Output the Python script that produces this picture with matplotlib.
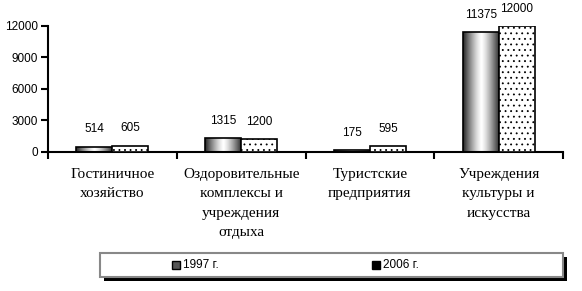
import numpy as np
import matplotlib.pyplot as plt
from matplotlib.patches import Rectangle

categories = ["Гостиничное\nхозяйство",
              "Оздоровительные\nкомплексы и\nучреждения\nотдыха",
              "Туристские\nпредприятия",
              "Учреждения\nкультуры и\nискусства"]
v1997 = [514, 1315, 175, 11375]
v2006 = [605, 1200, 595, 12000]
years = ["1997 г.", "2006 г."]
yticks = [0, 3000, 6000, 9000, 12000]

fig = plt.figure(figsize=(5.82, 2.91), dpi=100)
ax = fig.add_axes([0.0825, 0.478, 0.885, 0.433])

x = np.arange(len(categories))
w = 0.28

# gradient "cylinder" fill for 1997 bars
grad = np.abs(np.linspace(-1, 1, 64)) ** 1.3
grad = np.vstack([1 - 0.85 * grad] * 2)

bars1 = ax.bar(x - w / 2, v1997, w, facecolor="none", edgecolor="black", lw=1.2, zorder=3)
for b in bars1:
    bx, by = b.get_x(), b.get_y()
    im = ax.imshow(grad, cmap="gray", vmin=0, vmax=1, aspect="auto",
                   extent=[bx, bx + b.get_width(), by, by + b.get_height()], zorder=2)
    im.set_clip_path(b)

plt.rcParams["hatch.linewidth"] = 0.6
bars2 = ax.bar(x + w / 2, v2006, w, facecolor="white", edgecolor="black", lw=1.2,
               hatch="...", zorder=3)

for xs, vals in ((x - w / 2, v1997), (x + w / 2, v2006)):
    for xi, v in zip(xs, vals):
        ax.annotate(str(v), (xi, v), xytext=(0, 8), textcoords="offset points",
                    ha="center", va="bottom", fontsize=8.5, family="Liberation Sans")

ax.set_xlim(-0.5, len(categories) - 0.5)
ax.set_ylim(0, 12000)
ax.set_yticks(yticks)
ax.set_yticklabels([str(t) for t in yticks], family="Liberation Sans", fontsize=8.5)
ax.set_xticks(np.arange(len(categories) + 1) - 0.5)
ax.set_xticklabels([])
ax.tick_params(axis="x", direction="out", length=5, width=1.5)
ax.tick_params(axis="y", direction="out", length=5, width=1.5, pad=2)
for s in ("top", "right"):
    ax.spines[s].set_visible(False)
for s in ("left", "bottom"):
    ax.spines[s].set_linewidth(1.5)

for xi, c in zip(x, categories):
    ax.text(xi, -0.125, c, transform=ax.get_xaxis_transform(), ha="center", va="top",
            family="Liberation Serif", fontsize=11, linespacing=1.65)

# legend box with shadow
fx0, fx1 = 100 / 582, 563 / 582
fy0, fy1 = 1 - 277 / 291, 1 - 253 / 291
fig.patches.append(Rectangle((fx0 + 4 / 582, fy0 - 4 / 291), fx1 - fx0, fy1 - fy0,
                             transform=fig.transFigure, facecolor="black", edgecolor="none"))
fig.patches.append(Rectangle((fx0, fy0), fx1 - fx0, fy1 - fy0, transform=fig.transFigure,
                             facecolor="white", edgecolor="#888888", lw=1.5))
ym = (fy0 + fy1) / 2
for px, lab, hatch in ((176, years[0], None), (376, years[1], "..")):
    mx = px / 582
    fig.patches.append(Rectangle((mx - 4 / 582, ym - 4 / 291), 8 / 582, 8 / 291,
                                 transform=fig.transFigure, facecolor="#555555" if hatch is None else "black",
                                 edgecolor="black", lw=1))
    fig.text(mx + 7 / 582, ym, lab, ha="left", va="center", fontsize=8.5,
             family="Liberation Sans")

fig.savefig("out.png", dpi=100)
